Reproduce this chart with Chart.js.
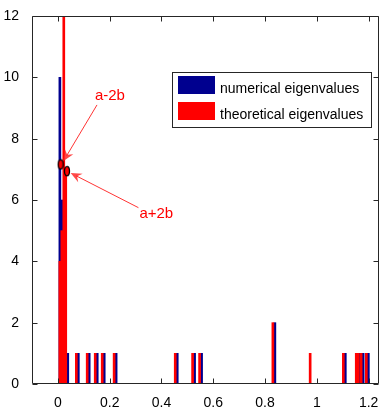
<!DOCTYPE html>
<html>
<head>
<meta charset="utf-8">
<script src="https://cdn.jsdelivr.net/npm/chart.js@4.4.0/dist/chart.umd.min.js"></script>
<style>
html,body{margin:0;padding:0;background:#ffffff;}
#wrap{width:385px;height:410px;position:relative;}
</style>
</head>
<body>
<div id="wrap"><canvas id="c"></canvas></div>
<script>
// ---- data ----
const binCenters = [0.0038, 0.0114, 0.019, 0.0266, 0.0342, 0.075, 0.117, 0.148, 0.175, 0.221, 0.457, 0.524, 0.551, 0.834, 0.978, 1.106, 1.156, 1.164, 1.175, 1.195];
const numericalCounts   = [10, 6, 3, 1, 1, 1, 1, 1, 1, 1, 1, 1, 1, 2, 0, 1, 1, 1, 1, 1];
const theoreticalCounts = [0, 4, 5, 13, 7, 1, 1, 1, 1, 1, 1, 1, 1, 2, 1, 1, 1, 1, 1, 1];
const seriesLabels = ['numerical eigenvalues', 'theoretical eigenvalues'];

const xTickValues = [0, 0.2, 0.4, 0.6, 0.8, 1, 1.2];
const xTickLabels = ['0', '0.2', '0.4', '0.6', '0.8', '1', '1.2'];
const yTickValues = [0, 2, 4, 6, 8, 10, 12];
const yTickLabels = ['0', '2', '4', '6', '8', '10', '12'];

const markerX = [0.0106, 0.035];
const markerY = [7.16, 6.94];

const annotationLabels = ['a-2b', 'a+2b'];
const annotationTextX = [0.201, 0.380];
const annotationTextY = [9.40, 5.54];
const arrowFromX = [0.151, 0.311];
const arrowFromY = [9.10, 5.75];
const arrowToX = [0.0216, 0.0493];
const arrowToY = [7.27, 6.88];

// ---- styling ----
const FONT = "'Liberation Sans', Arial, Helvetica, sans-serif";
const BLUE = '#00008f';
const RED = '#ff0000';
const AXIS = '#262626';

Chart.defaults.font.family = FONT;
Chart.defaults.font.size = 14;
Chart.defaults.color = '#000';

function makeMarker() {
  const c = document.createElement('canvas');
  c.width = 8; c.height = 12;
  const g = c.getContext('2d');
  g.beginPath();
  g.ellipse(4, 6, 2.5, 4.7, 0, 0, Math.PI * 2);
  g.fillStyle = RED; g.fill();
  g.lineWidth = 1.3; g.strokeStyle = '#000'; g.stroke();
  return c;
}
const markerImg = makeMarker();

const axesPlugin = {
  id: 'matlabAxes',
  afterDraw(chart) {
    const ctx = chart.ctx;
    const a = chart.chartArea;
    const xs = chart.scales.x, ys = chart.scales.y;
    const L = Math.round(a.left) + 0.5, R = Math.round(a.right) - 0.5;
    const T = Math.round(a.top) + 0.5, B = Math.round(a.bottom) - 0.5;
    ctx.save();
    ctx.strokeStyle = AXIS;
    ctx.lineWidth = 1;
    ctx.beginPath();
    ctx.rect(L, T, R - L, B - T);
    ctx.stroke();
    // inward ticks
    ctx.beginPath();
    const tl = 5;
    xTickValues.forEach(v => {
      const px = Math.round(xs.getPixelForValue(v)) + 0.5;
      ctx.moveTo(px, B); ctx.lineTo(px, B - tl);
      ctx.moveTo(px, T); ctx.lineTo(px, T + tl);
    });
    yTickValues.forEach(v => {
      const py = Math.round(ys.getPixelForValue(v)) + 0.5;
      ctx.moveTo(L, py); ctx.lineTo(L + tl, py);
      ctx.moveTo(R, py); ctx.lineTo(R - tl, py);
    });
    ctx.stroke();

    // annotations: arrows
    for (let i = 0; i < annotationLabels.length; i++) {
      const x1 = xs.getPixelForValue(arrowFromX[i]), y1 = ys.getPixelForValue(arrowFromY[i]);
      const x2 = xs.getPixelForValue(arrowToX[i]), y2 = ys.getPixelForValue(arrowToY[i]);
      const ang = Math.atan2(y1 - y2, x1 - x2);
      const hl = 12, spread = 0.42;
      ctx.strokeStyle = 'rgba(255,0,0,0.8)';
      ctx.lineWidth = 1;
      ctx.beginPath();
      ctx.moveTo(x1, y1);
      ctx.lineTo(x2 + Math.cos(ang) * 6, y2 + Math.sin(ang) * 6);
      ctx.stroke();
      ctx.fillStyle = 'rgba(255,40,40,0.85)';
      ctx.beginPath();
      ctx.moveTo(x2, y2);
      ctx.lineTo(x2 + Math.cos(ang + spread) * hl, y2 + Math.sin(ang + spread) * hl);
      ctx.lineTo(x2 + Math.cos(ang) * hl * 0.6, y2 + Math.sin(ang) * hl * 0.6);
      ctx.lineTo(x2 + Math.cos(ang - spread) * hl, y2 + Math.sin(ang - spread) * hl);
      ctx.closePath();
      ctx.fill();
      // label
      ctx.fillStyle = RED;
      ctx.font = '15px ' + FONT;
      ctx.textAlign = 'center';
      ctx.textBaseline = 'middle';
      ctx.fillText(annotationLabels[i], xs.getPixelForValue(annotationTextX[i]), ys.getPixelForValue(annotationTextY[i]));
    }

    // legend box (inside axes, upper right)
    const bx = 172, by = 72, bw = 200, bh = 56;
    ctx.fillStyle = '#fff';
    ctx.fillRect(bx, by, bw, bh);
    ctx.strokeStyle = AXIS;
    ctx.lineWidth = 1;
    ctx.strokeRect(bx + 0.5, by + 0.5, bw - 1, bh - 1);
    const rows = [
      { label: chart.data.datasets[1].label, color: chart.data.datasets[1].backgroundColor },
      { label: chart.data.datasets[0].label, color: chart.data.datasets[0].backgroundColor }
    ];
    ctx.font = '14px ' + FONT;
    ctx.textAlign = 'left';
    ctx.textBaseline = 'alphabetic';
    rows.forEach((r, i) => {
      const sy = by + 4 + i * 26;
      ctx.fillStyle = r.color;
      ctx.fillRect(bx + 6, sy, 37, 18);
      ctx.fillStyle = '#000';
      ctx.fillText(r.label, bx + 48, sy + 17);
    });
    ctx.restore();
  }
};

const ctx = document.getElementById('c').getContext('2d');
new Chart(ctx, {
  type: 'bar',
  data: {
    datasets: [
      {
        label: seriesLabels[1],
        data: binCenters.map((x, i) => ({ x: x, y: theoreticalCounts[i] })),
        backgroundColor: RED,
        borderWidth: 0,
        barThickness: 2
      },
      {
        label: seriesLabels[0],
        data: binCenters.map((x, i) => ({ x: x, y: numericalCounts[i] })),
        backgroundColor: BLUE,
        borderWidth: 0,
        barThickness: 2
      },
      {
        type: 'scatter',
        label: 'markers',
        data: markerX.map((x, i) => ({ x: x, y: markerY[i] })),
        pointStyle: markerImg,
        pointRadius: 5,
        order: -1
      }
    ]
  },
  options: {
    responsive: true,
    maintainAspectRatio: false,
    animation: false,
    devicePixelRatio: 1,
    layout: { padding: { top: 16, right: 2, left: 0, bottom: 0 } },
    plugins: { legend: { display: false }, tooltip: { enabled: false } },
    scales: {
      x: {
        type: 'linear',
        min: -0.1,
        max: 1.24,
        offset: false,
        grid: { display: false, offset: false },
        border: { display: false },
        ticks: {
          padding: 3,
          color: '#000',
          font: { size: 14 },
          maxRotation: 0,
          autoSkip: false,
          callback: (v) => { const i = xTickValues.indexOf(v); return i >= 0 ? xTickLabels[i] : ''; }
        },
        afterBuildTicks: (s) => { s.ticks = xTickValues.map(v => ({ value: v })); },
        afterFit: (s) => { s.height = 26; s.paddingLeft = 0; s.paddingRight = 0; }
      },
      y: {
        type: 'linear',
        min: 0,
        max: 12,
        grid: { display: false },
        border: { display: false },
        ticks: {
          padding: 5,
          color: '#000',
          font: { size: 14 },
          autoSkip: false,
          callback: (v) => { const i = yTickValues.indexOf(v); return i >= 0 ? yTickLabels[i] : ''; }
        },
        afterBuildTicks: (s) => { s.ticks = yTickValues.map(v => ({ value: v })); },
        afterFit: (s) => { s.width = 32; s.paddingTop = 0; s.paddingBottom = 0; }
      }
    }
  },
  plugins: [axesPlugin]
});
</script>
</body>
</html>
